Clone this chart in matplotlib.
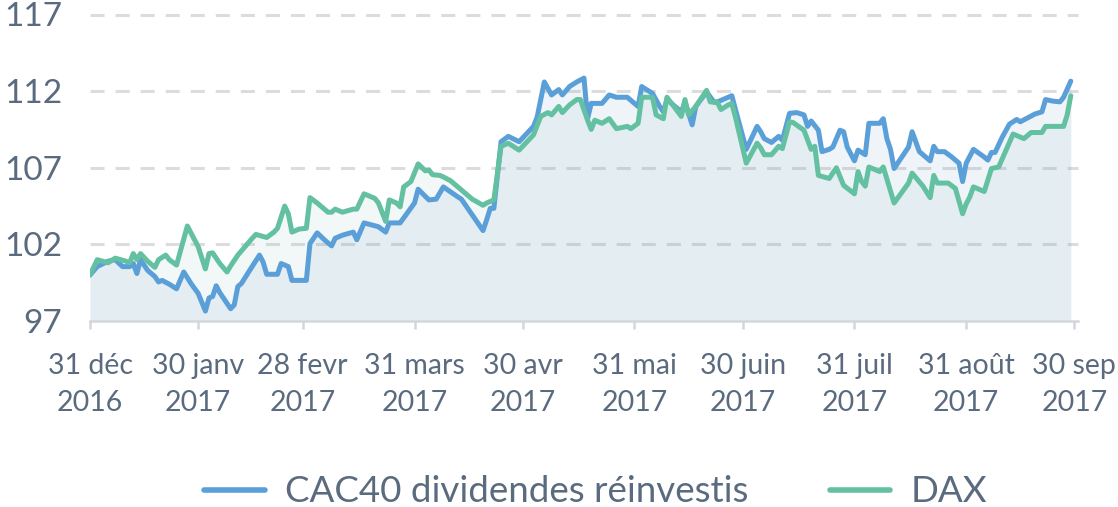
import numpy as np
import matplotlib
matplotlib.use("Agg")
import matplotlib.pyplot as plt

# ---- data (days since 31 Dec 2016, index values) ----
cac_days = [0, 2, 5, 7, 9, 11, 12, 13, 14, 16, 18, 19, 20, 22, 24, 26, 28, 30, 32, 33,
            34, 35, 36, 37, 39, 40, 41, 42, 44, 47, 48, 49, 52, 53, 55, 56, 60, 61, 63, 65,
            67, 68, 70, 73, 74, 76, 80, 82, 83, 86, 88, 90, 91, 94, 96, 98, 102, 103, 109, 110,
            111, 112, 114, 116, 119, 123, 124, 126, 128, 130, 131, 133, 135, 137, 138, 139, 142, 144, 146, 149,
            152, 153, 156, 158, 159, 160, 164, 165, 167, 168, 171, 173, 174, 178, 179, 182, 185, 186, 187, 189,
            191, 192, 194, 196, 198, 199, 200, 202, 203, 205, 206, 208, 209, 210, 212, 213, 215, 216, 219, 220,
            221, 222, 223, 227, 228, 230, 233, 234, 235, 237, 239, 241, 242, 243, 245, 248, 249, 250, 251, 253,
            255, 257, 258, 262, 264, 265, 267, 269, 270, 272]
cac_values = [100.0, 100.55, 100.9, 101.0, 100.55, 100.55, 100.75, 100.1, 101.0, 100.3, 99.9, 99.55, 99.65, 99.4, 99.1, 100.2, 99.45, 98.8, 97.65, 98.5,
              98.6, 99.3, 98.85, 98.5, 97.8, 98.05, 99.25, 99.45, 100.2, 101.3, 100.85, 100.05, 100.05, 100.75, 100.55, 99.65, 99.65, 102.05, 102.75, 102.3,
              101.9, 102.4, 102.6, 102.8, 102.3, 103.4, 103.15, 102.8, 103.4, 103.4, 104.05, 104.7, 105.6, 104.9, 104.95, 105.75, 105.1, 104.95, 102.9, 103.6,
              104.35, 104.35, 108.7, 109.05, 108.7, 109.7, 110.3, 112.6, 111.75, 112.1, 111.75, 112.3, 112.6, 112.85, 110.2, 111.2, 111.2, 111.75, 111.6, 111.6,
              111.0, 112.3, 111.85, 111.0, 110.65, 111.45, 110.65, 111.3, 109.8, 111.0, 111.95, 111.3, 111.3, 111.7, 110.8, 108.2, 109.7, 109.35, 108.9, 108.65,
              109.05, 108.8, 110.55, 110.6, 110.45, 109.7, 110.05, 109.45, 108.05, 108.2, 108.35, 109.45, 109.35, 108.35, 107.45, 108.15, 107.85, 109.9, 109.9, 110.2,
              108.9, 108.2, 106.95, 108.35, 109.35, 108.05, 107.45, 108.4, 108.05, 108.05, 107.7, 107.3, 106.1, 107.3, 108.2, 107.7, 107.5, 108.0, 108.0, 109.0,
              109.85, 110.15, 110.0, 110.5, 110.65, 111.45, 111.35, 111.3, 111.6, 112.65]

dax_days = [0, 2, 5, 7, 10, 11, 12, 13, 14, 16, 18, 19, 21, 22, 24, 27, 29, 30, 32, 33,
            34, 36, 38, 39, 41, 43, 45, 46, 49, 51, 52, 54, 55, 56, 58, 60, 61, 63, 66, 67,
            68, 70, 73, 74, 76, 79, 80, 82, 83, 85, 86, 87, 89, 91, 93, 94, 95, 97, 98, 100,
            102, 103, 106, 109, 110, 112, 114, 116, 119, 123, 125, 127, 128, 130, 131, 133, 135, 136, 138, 139,
            140, 142, 144, 146, 149, 150, 152, 153, 156, 157, 159, 160, 164, 165, 166, 168, 171, 172, 174, 175,
            177, 178, 179, 182, 185, 186, 187, 189, 191, 192, 194, 195, 198, 200, 201, 202, 205, 207, 209, 212,
            213, 214, 215, 216, 219, 220, 223, 227, 228, 231, 233, 234, 235, 238, 240, 242, 243, 244, 245, 248,
            250, 252, 256, 259, 261, 264, 265, 270, 271, 272]
dax_values = [100.0, 101.0, 100.8, 101.1, 100.9, 100.8, 101.4, 101.0, 101.4, 100.9, 100.5, 101.0, 101.3, 101.0, 100.65, 103.2, 102.3, 101.85, 100.4, 101.4,
              101.45, 100.75, 100.2, 100.6, 101.3, 101.85, 102.4, 102.65, 102.45, 102.8, 103.05, 104.5, 104.0, 102.8, 103.0, 103.05, 105.05, 104.7, 104.1, 104.1,
              104.3, 104.1, 104.3, 104.3, 105.3, 105.0, 104.7, 103.5, 104.9, 104.7, 104.45, 105.75, 106.1, 107.25, 106.8, 106.85, 106.55, 106.5, 106.4, 106.15,
              105.75, 105.55, 104.95, 104.55, 104.7, 104.9, 108.4, 108.6, 108.15, 109.15, 110.35, 110.6, 110.45, 111.0, 110.6, 111.1, 111.45, 111.45, 110.1, 109.5,
              110.1, 109.9, 110.2, 109.55, 109.7, 109.55, 109.9, 111.6, 111.6, 110.45, 110.2, 111.6, 110.35, 111.45, 110.45, 111.0, 112.05, 111.3, 111.25, 110.8,
              111.1, 111.2, 110.3, 107.3, 108.6, 108.3, 107.85, 107.85, 108.4, 108.25, 110.0, 109.95, 109.45, 108.2, 108.4, 106.5, 106.3, 107.0, 105.85, 105.3,
              106.75, 106.1, 105.8, 107.05, 106.75, 107.05, 104.7, 106.0, 106.65, 105.8, 105.05, 106.5, 106.0, 106.0, 105.65, 104.0, 104.65, 105.1, 105.75, 105.45,
              106.95, 107.05, 109.2, 108.9, 109.3, 109.3, 109.7, 109.7, 110.45, 111.7]

tick_dates = ['2016-12-31', '2017-01-30', '2017-02-28', '2017-03-31', '2017-04-30',
              '2017-05-31', '2017-06-30', '2017-07-31', '2017-08-31', '2017-09-30']
tick_labels = ['31 déc\n2016', '30 janv\n2017', '28 fevr\n2017', '31 mars\n2017', '30 avr\n2017',
               '31 mai\n2017', '30 juin\n2017', '31 juil\n2017', '31 août\n2017', '30 sep\n2017']
y_ticks = [97, 102, 107, 112, 117]
series_names = ['CAC40 dividendes réinvestis', 'DAX']

# ---- style ----
plt.rcParams['font.family'] = ['Lato', 'DejaVu Sans']
TXT = '#5b6b7f'
BLUE = '#5b9fd8'
GREEN = '#63c0a0'
AXC = '#d3d7dc'

base = np.datetime64('2016-12-31')
cac_x = base + np.array(cac_days).astype('timedelta64[D]')
dax_x = base + np.array(dax_days).astype('timedelta64[D]')
tx = np.array(tick_dates, dtype='datetime64[D]')

fig = plt.figure(figsize=(11.18, 5.07), dpi=100)
ax = fig.add_axes([90/1118, 1-321/507, 988/1118, (321-14.5)/507])

ymin, ymax = y_ticks[0], y_ticks[-1]
ax.fill_between(dax_x, dax_values, ymin, color='#8fb8b8', alpha=0.11, lw=0, zorder=1)
ax.fill_between(cac_x, cac_values, ymin, color='#6f9fd0', alpha=0.11, lw=0, zorder=1)
ax.plot(cac_x, cac_values, color=BLUE, lw=3.6, solid_joinstyle='round', solid_capstyle='round',
        label=series_names[0], zorder=3)
ax.plot(dax_x, dax_values, color=GREEN, lw=3.6, solid_joinstyle='round', solid_capstyle='round',
        label=series_names[1], zorder=4)

ax.set_ylim(ymin, ymax)
ax.set_xlim(base, np.datetime64('2017-10-01'))
ax.set_yticks(y_ticks)
ax.set_yticklabels([str(v) for v in y_ticks])
for v in y_ticks[1:]:
    ax.axhline(v, color='#dcdcdc', lw=2.2, linestyle=(0, (4.6, 3.6)), zorder=0, clip_on=False)

ax.set_xticks(tx)
ax.set_xticklabels(tick_labels, linespacing=1.55)

for s in ['top', 'right', 'left']:
    ax.spines[s].set_visible(False)
ax.spines['bottom'].set_color(AXC)
ax.spines['bottom'].set_linewidth(1.8)
ax.tick_params(axis='y', length=0, pad=20, labelsize=24, labelcolor=TXT)
ax.tick_params(axis='x', length=6, width=1.8, color=AXC, pad=17, labelsize=20.5, labelcolor=TXT)

leg = fig.legend(loc='center', bbox_to_anchor=(0.533, 1-492/507), ncol=2, frameon=False,
                 fontsize=26.5, labelcolor=TXT, handlelength=1.65, handletextpad=0.55,
                 columnspacing=2.2)
for h in leg.get_lines():
    h.set_linewidth(4)

fig.savefig('out.png', dpi=100)
